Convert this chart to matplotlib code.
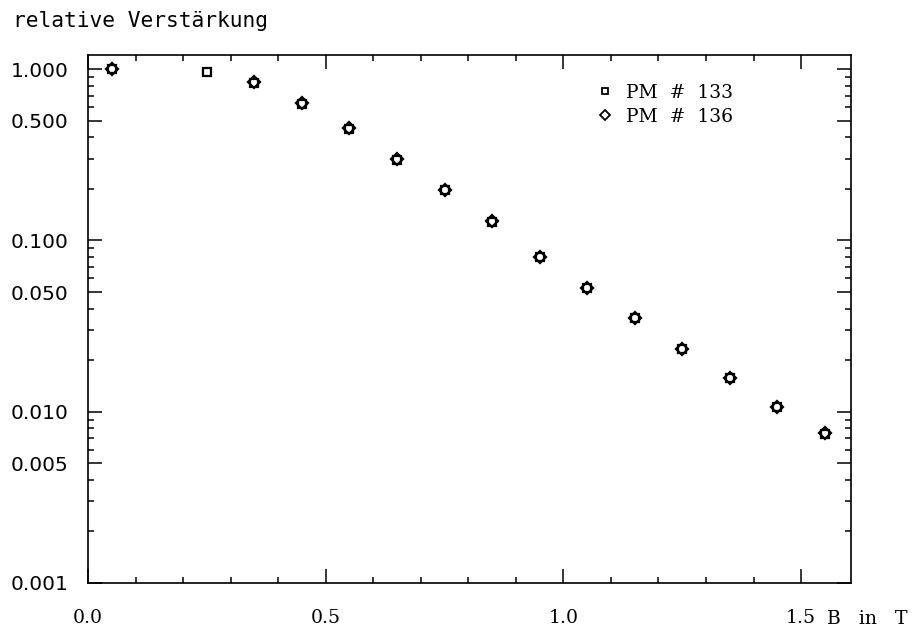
import numpy as np
import matplotlib
matplotlib.use("Agg")
import matplotlib.pyplot as plt
from matplotlib.ticker import FixedLocator, NullFormatter
from matplotlib.lines import Line2D

# data (B in T, relative gain)
b_133 = [0.05, 0.25, 0.35, 0.45, 0.55, 0.65, 0.75, 0.85, 0.95, 1.05, 1.15, 1.25, 1.35, 1.45, 1.55]
g_133 = [1.00, 0.967, 0.83, 0.63, 0.45, 0.296, 0.196, 0.129, 0.080, 0.0525, 0.0351, 0.0231, 0.0157, 0.0106, 0.0074]
b_136 = [0.05, 0.35, 0.45, 0.55, 0.65, 0.75, 0.85, 0.95, 1.05, 1.15, 1.25, 1.35, 1.45, 1.55]
g_136 = [1.00, 0.84, 0.635, 0.455, 0.298, 0.197, 0.130, 0.080, 0.053, 0.0354, 0.0233, 0.0158, 0.0107, 0.0075]

labels = ["PM  #  133", "PM  #  136"]
yticks = [1.0, 0.5, 0.1, 0.05, 0.01, 0.005, 0.001]
ytick_labels = ["1.000", "0.500", "0.100", "0.050", "0.010", "0.005", "0.001"]
xticks = [0.0, 0.5, 1.0, 1.5]
xtick_labels = ["0.0", "0.5", "1.0", "1.5"]

fig = plt.figure(figsize=(9.14, 6.31), dpi=100)
ax = fig.add_axes([88/914, 48/631, 763/914, 528/631])

ax.plot(b_133, g_133, ls='none', marker='s', ms=6, mfc='none', mec='k', mew=1.6, label=labels[0])
ax.plot(b_136, g_136, ls='none', marker='D', ms=6, mfc='none', mec='k', mew=1.6, label=labels[1])

ax.set_yscale('log')
ax.set_xlim(0, 1.605)
ax.set_ylim(0.001, 1.21)

ax.yaxis.set_major_locator(FixedLocator(yticks))
ax.set_yticklabels(ytick_labels)
minor_y = [m * 10.0**e for e in (-3, -2, -1) for m in (2, 3, 4, 6, 7, 8, 9)]
ax.yaxis.set_minor_locator(FixedLocator(minor_y))
ax.yaxis.set_minor_formatter(NullFormatter())

ax.set_xticks(xticks)
ax.set_xticklabels(xtick_labels, family='DejaVu Serif', fontsize=13.6)
ax.xaxis.set_minor_locator(FixedLocator(np.arange(0.1, 1.6, 0.1)))

ax.tick_params(which='both', direction='in', top=True, right=True, width=1.1, colors='k')
ax.tick_params(which='major', length=10)
ax.tick_params(which='minor', length=4.5)
ax.tick_params(axis='y', labelsize=14.5, pad=14)
ax.tick_params(axis='x', pad=19)
for s in ax.spines.values():
    s.set_linewidth(1.2)

ax.text(827/914, 1 - 619/631, "B   in   T", transform=fig.transFigure, ha='left', va='center',
        family='DejaVu Serif', fontsize=13.6)
fig.text(13/914, 1 - 21/631, "relative Verstärkung", ha='left', va='center',
         family='DejaVu Sans Mono', fontsize=15.3)

handles = [Line2D([], [], ls='none', marker='s', ms=5, mfc='none', mec='k', mew=1.3),
           Line2D([], [], ls='none', marker='D', ms=5, mfc='none', mec='k', mew=1.3)]
ax.legend(handles, labels, loc='upper left', bbox_to_anchor=(0.656, 0.963), frameon=False,
          prop={'family': 'DejaVu Serif', 'size': 13.5}, handlelength=0.8,
          handletextpad=0.7, labelspacing=0.3, borderpad=0)

fig.savefig("out.png", dpi=100)
